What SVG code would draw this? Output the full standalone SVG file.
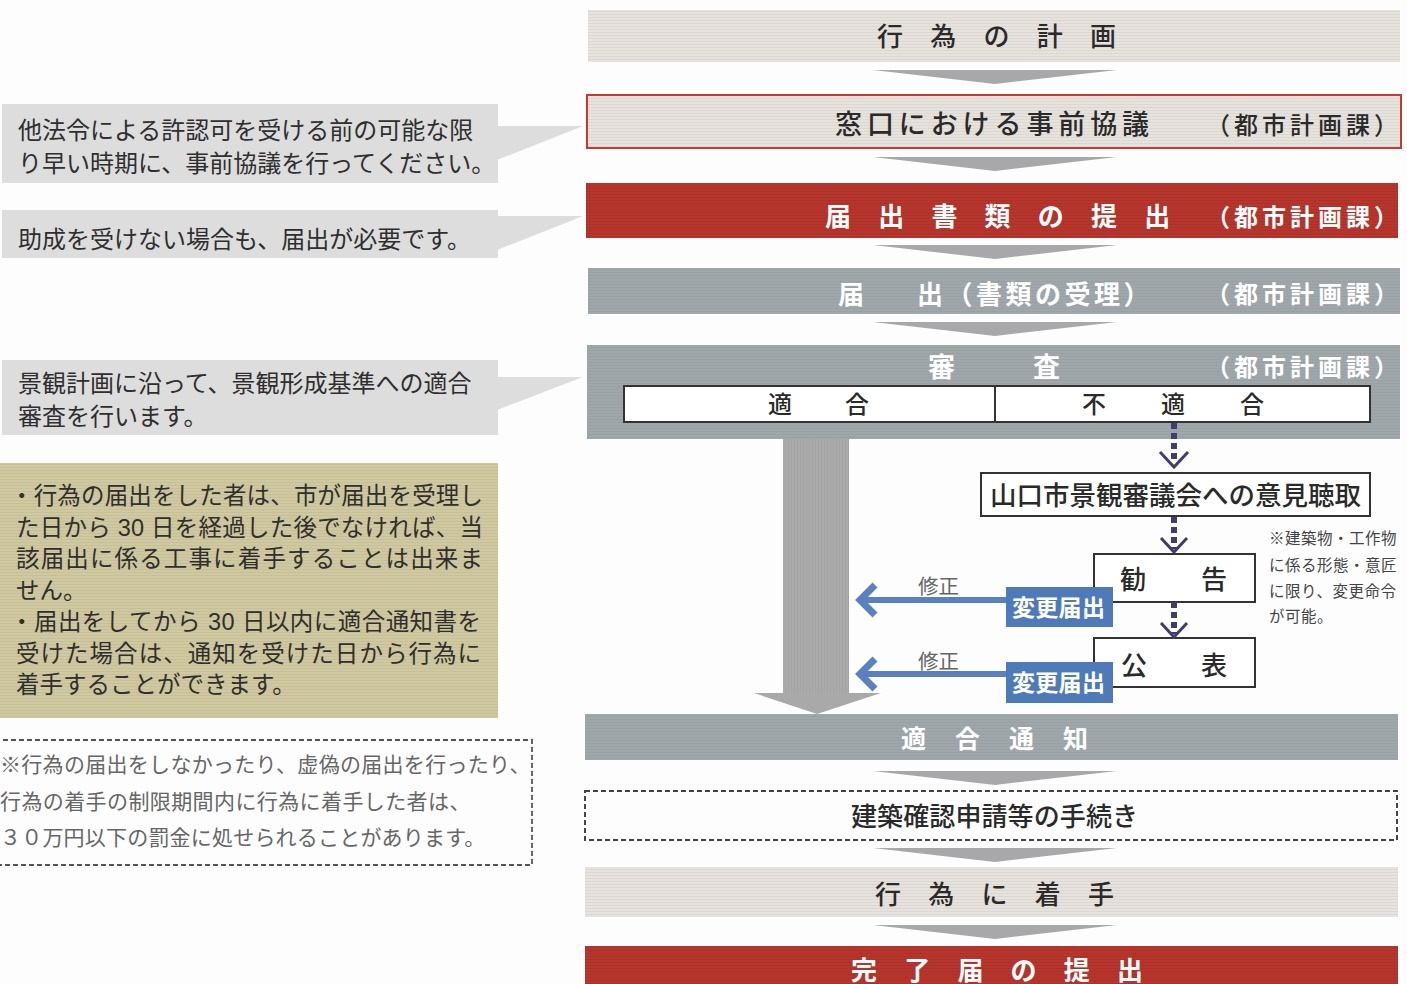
<svg xmlns="http://www.w3.org/2000/svg" width="1407" height="984" viewBox="0 0 1407 984">
<defs>
<pattern id="pLight" width="6" height="3" patternUnits="userSpaceOnUse"><rect width="6" height="3" fill="#e6e2dd"/><rect y="2" width="6" height="1" fill="#dcd7d1"/></pattern>
<pattern id="pGray" width="6" height="3" patternUnits="userSpaceOnUse"><rect width="6" height="3" fill="#9fa7ab"/><rect y="2" width="6" height="1" fill="#99a1a5"/></pattern>
<pattern id="pRed" width="6" height="3" patternUnits="userSpaceOnUse"><rect width="6" height="3" fill="#b6352c"/><rect y="2" width="6" height="1" fill="#ae3129"/></pattern>
<pattern id="pKhaki" width="6" height="3" patternUnits="userSpaceOnUse"><rect width="6" height="3" fill="#d0c8a0"/><rect y="2" width="6" height="1" fill="#c7bf95"/></pattern>
<pattern id="pShaft" width="3" height="6" patternUnits="userSpaceOnUse"><rect width="3" height="6" fill="#aaaaaa"/><rect x="2" width="1" height="6" fill="#a3a3a3"/></pattern>
</defs>
<style>
text{font-family:'Liberation Sans','Noto Sans CJK JP',sans-serif;}
.dk{fill:#2a2a2a;font-weight:500}
.wh{fill:#ffffff;font-weight:bold}
.cl{fill:#dddddd}
.ct{fill:#2f2f2f;font-size:24px}
.kt{fill:#2f2f2f;font-size:23.5px}
.nt{fill:#666666;font-size:21px}
.box{fill:#ffffff;stroke:#333333;stroke-width:2}
.chev{fill:#a8a8aa}
.dot{stroke:#3f3c6e;stroke-width:6;stroke-dasharray:6 4;fill:none}
.vh{stroke:#3f3c6e;stroke-width:3;fill:none}
.bl{stroke:#5a80c2;stroke-width:6;fill:none}
.blh{stroke:#5a80c2;stroke-width:7;fill:none;stroke-linejoin:miter}
.bbox{fill:#4f7ab9}
.bt{fill:#ffffff;font-size:23px;font-weight:bold;letter-spacing:0.3px}
.fix{fill:#666666;font-size:20.5px}
.dept{font-size:24px;letter-spacing:4px}
</style>
<rect width="1407" height="984" fill="#fdfdfd"/>

<!-- left callouts -->
<g id="callout-consult">
<rect class="cl" x="2" y="104" width="496" height="79"/>
<polygon class="cl" points="497,126 583,126 497,160"/>
<text class="ct" x="18" y="139">他法令による許認可を受ける前の可能な限</text>
<text class="ct" x="18" y="172">り早い時期に、事前協議を行ってください。</text>
</g>
<g id="callout-notify">
<rect class="cl" x="2" y="210" width="496" height="48"/>
<polygon class="cl" points="497,216 583,216 497,250"/>
<text class="ct" x="18" y="248">助成を受けない場合も、届出が必要です。</text>
</g>
<g id="callout-review">
<rect class="cl" x="2" y="360" width="496" height="75"/>
<polygon class="cl" points="497,377 583,377 497,410"/>
<text class="ct" x="18" y="392">景観計画に沿って、景観形成基準への適合</text>
<text class="ct" x="18" y="425">審査を行います。</text>
</g>
<g id="note-khaki">
<rect x="0" y="463" width="498" height="255" fill="url(#pKhaki)"/>
<text class="kt" x="10" y="504" textLength="473" lengthAdjust="spacing">・行為の届出をした者は、市が届出を受理し</text>
<text class="kt" x="16" y="535.5" textLength="467" lengthAdjust="spacing">た日から 30 日を経過した後でなければ、当</text>
<text class="kt" x="16" y="567" textLength="467" lengthAdjust="spacing">該届出に係る工事に着手することは出来ま</text>
<text class="kt" x="16" y="598.5">せん。</text>
<text class="kt" x="10" y="630" textLength="471" lengthAdjust="spacing">・届出をしてから 30 日以内に適合通知書を</text>
<text class="kt" x="16" y="661.5" textLength="465" lengthAdjust="spacing">受けた場合は、通知を受けた日から行為に</text>
<text class="kt" x="16" y="693">着手することができます。</text>
</g>
<g id="note-penalty">
<rect x="-5" y="740" width="537" height="125" fill="none" stroke="#555555" stroke-width="1.8" stroke-dasharray="5 3"/>
<text class="nt" x="0" y="772" letter-spacing="0.3">※行為の届出をしなかったり、虚偽の届出を行ったり、</text>
<text class="nt" x="0" y="809" letter-spacing="0.4">行為の着手の制限期間内に行為に着手した者は、</text>
<text class="nt" x="0" y="845" letter-spacing="0.2">３０万円以下の罰金に処せられることがあります。</text>
</g>

<!-- flow nodes -->
<g id="node-plan">
<rect x="588" y="10" width="812" height="52" fill="url(#pLight)"/>
<text class="dk" x="877" y="46" font-size="26" letter-spacing="27.25">行為の計画</text>
</g>
<g id="node-consult">
<rect x="587" y="95" width="814" height="53" fill="url(#pLight)" stroke="#c8392f" stroke-width="2"/>
<text class="dk" x="835" y="134" font-size="27" letter-spacing="4.9">窓口における事前協議</text>
<text class="dk dept" x="1206" y="134">（都市計画課）</text>
</g>
<g id="node-submit">
<rect x="586" y="183" width="812" height="55" fill="url(#pRed)"/>
<text class="wh" x="825" y="226" font-size="26" letter-spacing="27.2">届出書類の提出</text>
<text class="wh dept" x="1206" y="226">（都市計画課）</text>
</g>
<g id="node-accept">
<rect x="588" y="268" width="812" height="46" fill="url(#pGray)"/>
<text class="wh" x="838 917" y="304" font-size="26" letter-spacing="3.5">届出（書類の受理）</text>
<text class="wh dept" x="1206" y="303">（都市計画課）</text>
</g>
<g id="node-review">
<rect x="587" y="345" width="813" height="94" fill="url(#pGray)"/>
<text class="wh" x="928 1033" y="377" font-size="27">審査</text>
<text class="wh dept" x="1206" y="376">（都市計画課）</text>
<rect class="box" x="624" y="386" width="746" height="36"/>
<line x1="995" y1="386" x2="995" y2="422" stroke="#333333" stroke-width="2"/>
<text class="dk" x="768 845" y="413" font-size="24">適合</text>
<text class="dk" x="1082 1161 1240" y="413" font-size="24">不適合</text>
</g>
<g id="node-council">
<rect class="box" x="981" y="473" width="389" height="43"/>
<text class="dk" x="990" y="505" font-size="26.5">山口市景観審議会への意見聴取</text>
</g>
<g id="node-advice">
<rect class="box" x="1094" y="554" width="161" height="48"/>
<text class="dk" x="1120 1201" y="589" font-size="26">勧告</text>
</g>
<g id="node-publish">
<rect class="box" x="1094" y="638" width="161" height="49"/>
<text class="dk" x="1121 1201" y="675" font-size="26">公表</text>
</g>
<g id="note-order">
<text fill="#444444" font-size="15.5" letter-spacing="0.5" x="1269" y="544">※建築物・工作物</text>
<text fill="#444444" font-size="15.5" letter-spacing="0.5" x="1269" y="571">に係る形態・意匠</text>
<text fill="#444444" font-size="15.5" letter-spacing="0.5" x="1269" y="597">に限り、変更命令</text>
<text fill="#444444" font-size="15.5" letter-spacing="0.5" x="1269" y="622">が可能。</text>
</g>
<g id="node-conform">
<rect x="585" y="714" width="813" height="46" fill="url(#pGray)"/>
<text class="wh" x="901" y="748" font-size="25" letter-spacing="29">適合通知</text>
</g>
<g id="node-building">
<rect x="585" y="791" width="812" height="49" fill="none" stroke="#444444" stroke-width="2" stroke-dasharray="5 3"/>
<text class="dk" x="851" y="826" font-size="26" letter-spacing="0.1">建築確認申請等の手続き</text>
</g>
<g id="node-start">
<rect x="585" y="867" width="813" height="50" fill="url(#pLight)"/>
<text class="dk" x="875" y="904" font-size="26" letter-spacing="27.25">行為に着手</text>
</g>
<g id="node-complete">
<rect x="585" y="946" width="813" height="40" fill="url(#pRed)"/>
<text class="wh" x="851" y="980" font-size="26" letter-spacing="27.2">完了届の提出</text>
</g>

<!-- connectors -->
<g id="connectors">
<polygon class="chev" points="873,70 1117,70 995,84"/>
<polygon class="chev" points="873,157 1117,157 995,171"/>
<polygon class="chev" points="873,245 1117,245 995,259"/>
<polygon class="chev" points="873,322 1117,322 995,336"/>
<polygon class="chev" points="873,771 1117,771 995,785"/>
<polygon class="chev" points="873,848 1117,848 995,862"/>
<polygon class="chev" points="873,925 1117,925 995,939"/>
<rect x="783" y="439" width="66" height="255" fill="url(#pShaft)"/>
<polygon points="754,693 881,693 817,714" fill="#a9a9a9"/>
<line class="dot" x1="1174" y1="423" x2="1174" y2="462"/>
<polyline class="vh" points="1160,452 1174,467 1188,452"/>
<line class="dot" x1="1174" y1="517" x2="1174" y2="549"/>
<polyline class="vh" points="1161,538 1174,552 1187,538"/>
<line class="dot" x1="1174" y1="602" x2="1174" y2="634"/>
<polyline class="vh" points="1161,623 1174,637 1187,623"/>
<line class="bl" x1="1008" y1="600" x2="864" y2="600"/>
<polyline class="blh" points="875,585 860,600 875,615"/>
<line class="bl" x1="1008" y1="674" x2="864" y2="674"/>
<polyline class="blh" points="875,659 860,674 875,689"/>
<text class="fix" x="918" y="594">修正</text>
<text class="fix" x="918" y="669">修正</text>
</g>
<g id="label-change-1">
<rect class="bbox" x="1006" y="587" width="107" height="40"/>
<text class="bt" x="1012" y="616">変更届出</text>
</g>
<g id="label-change-2">
<rect class="bbox" x="1006" y="662" width="107" height="41"/>
<text class="bt" x="1012" y="691">変更届出</text>
</g>
</svg>
